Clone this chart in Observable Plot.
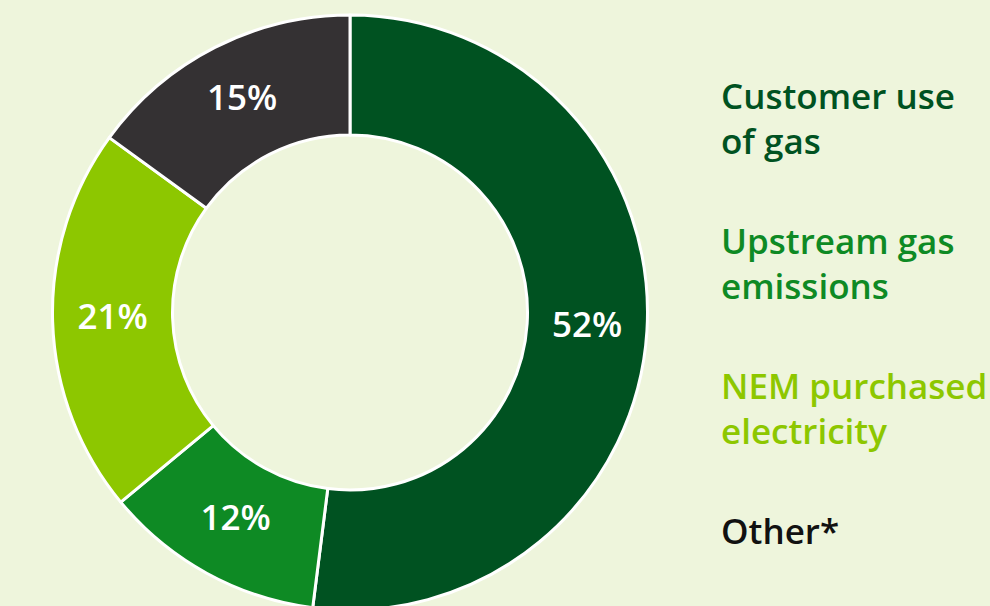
<!DOCTYPE html>
<html><head><meta charset="utf-8">
<script src="https://cdn.jsdelivr.net/npm/d3@7"></script>
<script src="https://cdn.jsdelivr.net/npm/@observablehq/plot@0.6"></script>
<style>
html,body{margin:0;padding:0;background:#eef5dc;}
#wrap{width:990px;height:606px;overflow:hidden;position:relative;background:#eef5dc;}
#chart{position:absolute;left:0;top:0;}
#legend{position:absolute;left:721px;top:73px;font-family:"Open Sans",Lato,sans-serif;font-weight:600;font-size:35px;line-height:45px;white-space:pre;}
#legend div{margin-bottom:55px;}
</style>
</head><body>
<div id="wrap"><div id="chart"></div><div id="legend"></div></div>
<script>
const categories = ["Customer use of gas", "Upstream gas emissions", "NEM purchased electricity", "Other*"];
const legendLabels = ["Customer use\nof gas", "Upstream gas\nemissions", "NEM purchased\nelectricity", "Other*"];
const shares = [52, 12, 21, 15];
const sliceColors = ["#005221", "#0e8a24", "#8dc700", "#343133"];
const legendColors = ["#005221", "#0e8a24", "#8dc700", "#111111"];

const data = categories.map((c, i) => ({category: c, value: shares[i]}));

const W = 700, H = 606;
const innerR = 177.5, outerR = 297.5;
const cx = 350, cy = 312.5;

function donutRender(index, scales, values, dimensions) {
  const g = d3.create("svg:g").attr("transform", `translate(${cx},${cy})`);
  const arc = d3.arc().innerRadius(innerR).outerRadius(outerR);
  for (const i of index) {
    const a0 = values.x1[i], a1 = values.x2[i];
    g.append("path")
      .attr("d", arc({startAngle: Math.min(a0, a1), endAngle: Math.max(a0, a1)}))
      .attr("fill", values.fill[i])
      .attr("stroke", "white")
      .attr("stroke-width", 3)
      .attr("stroke-linejoin", "round");
  }
  for (const i of index) {
    const a0 = values.x1[i], a1 = values.x2[i];
    const [px, py] = arc.centroid({startAngle: Math.min(a0, a1), endAngle: Math.max(a0, a1)});
    g.append("text")
      .attr("x", px).attr("y", py)
      .attr("dy", -4)
      .attr("text-anchor", "middle")
      .attr("dominant-baseline", "central")
      .attr("fill", "white")
      .attr("font-family", "'Open Sans', Lato, sans-serif")
      .attr("font-weight", 600)
      .attr("font-size", 35)
      .text(shares[i] + "%");
  }
  return g.node();
}

const plot = Plot.plot({
  width: W, height: H,
  margin: 0,
  style: {background: "transparent", overflow: "visible"},
  x: {domain: [0, 100], range: [0, 2 * Math.PI], axis: null},
  y: {axis: null},
  color: {domain: categories, range: sliceColors},
  marks: [
    Plot.barX(data, Plot.stackX({x: "value", fill: "category", render: donutRender}))
  ]
});
document.getElementById("chart").appendChild(plot);

const legend = document.getElementById("legend");
legendLabels.forEach((t, i) => {
  const d = document.createElement("div");
  d.textContent = t;
  d.style.color = legendColors[i];
  legend.appendChild(d);
});
</script>
</body></html>
